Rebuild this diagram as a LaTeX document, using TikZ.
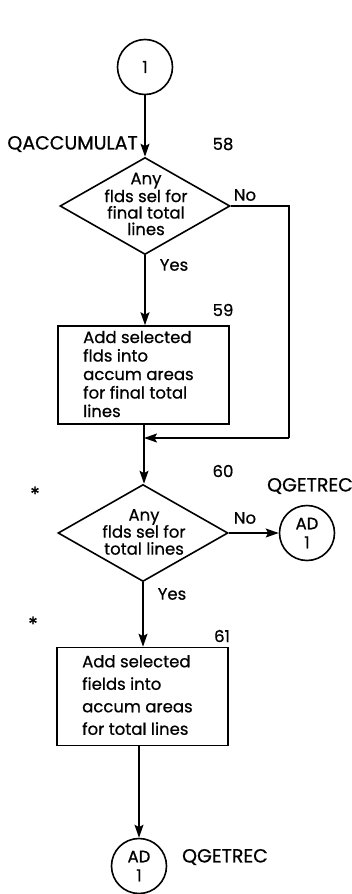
\documentclass[tikz,border=0pt]{standalone}
\usepackage{fontspec}
\setmainfont{Poppins}[FakeBold=0.7]
\usetikzlibrary{shapes.geometric,arrows.meta}
\tikzset{
  every node/.style={font=\fontsize{16.5}{19}\selectfont},
  capsfont/.style={font=\fontsize{19}{22}\selectfont},
  starfont/.style={font=\fontsize{20}{22}\selectfont},
  line/.style={line width=1.6pt},
  arr/.style={line width=1.6pt,-{Stealth[length=13pt,width=9pt,inset=2.5pt]}},
  conn/.style={circle,draw,line width=1.6pt,minimum size=55pt,inner sep=0pt,align=center,font=\fontsize{16.5}{19}\selectfont},
  dec/.style={diamond,draw,line width=1.6pt,minimum width=170pt,minimum height=97pt,inner sep=0pt},
  proc/.style={rectangle,draw,line width=1.6pt,minimum width=171pt,minimum height=98pt,inner sep=0pt},
  lbl/.style={inner sep=0pt},
}
\begin{document}
\begin{tikzpicture}[x=1pt,y=-1pt]
\useasboundingbox (0,0) rectangle (352,894);
% connector 1
\node[conn] (c1) at (145,67) {1};
\node[lbl,capsfont,anchor=east] (qacc) at (138,144) {QACCUMULAT};
\node[lbl] (n58) at (223,144) {58};
% decision 1
\node[dec] (d1) at (145,206) {};
\node[lbl,align=center,font=\fontsize{16.5}{16.5}\selectfont] (d1t) at (146,204) {Any\\flds sel for\\final total\\lines};
\node[lbl] (no1) at (245,195) {No};
\node[lbl] (yes1) at (174,265) {Yes};
% process 1
\node[proc] (b1) at (143.5,375) {};
\node[lbl] (n59) at (223,310) {59};
\node[lbl,anchor=west,align=left,font=\fontsize{16.5}{18.5}\selectfont] (b1t) at (83,374) {Add selected\\flds into\\accum areas\\for final total\\lines};
\coordinate (r1) at (289,206);
\coordinate (r2) at (289,438);
\coordinate (m1) at (144,438);
% decision 2
\node[lbl] (n60) at (223,471) {60};
\node[lbl,capsfont] (qg1) at (310,486) {QGETREC};
\node[lbl,starfont] (st1) at (35,494) {*};
\node[dec] (d2) at (143,533) {};
\node[lbl,align=center,font=\fontsize{16.5}{17}\selectfont] (d2t) at (144,532) {Any\\flds sel for\\total lines};
\node[lbl] (no2) at (245,518) {No};
\node[conn] (c2) at (307,533) {AD\\1};
\node[lbl] (yes2) at (172,594) {Yes};
\node[lbl,starfont] (st2) at (33,624) {*};
% process 2
\node[proc] (b2) at (142.5,696.5) {};
\node[lbl] (n61) at (222,636) {61};
\node[lbl,anchor=west,align=left,font=\fontsize{16.5}{22.5}\selectfont] (b2t) at (82,695) {Add selected\\fields into\\accum areas\\for total lines};
% connector 3
\node[conn] (c3) at (139,866) {AD\\1};
\node[lbl,capsfont] (qg2) at (225,857) {QGETREC};
% connectors
\draw[arr] (c1) -- (d1.north);
\draw[arr] (d1.south) -- (d1.south |- b1.north);
\draw[line] (d1.east) -- (r1) -- (r2);
\draw[arr] (r2) -- (m1);
\draw[arr] (b1.south -| m1) -- (d2.north -| m1);
\draw[arr] (d2.east) -- (c2.west);
\draw[arr] (d2.south) -- (d2.south |- b2.north);
\draw[arr] (b2.south -| c3.north) -- (c3.north);
\end{tikzpicture}
\end{document}
